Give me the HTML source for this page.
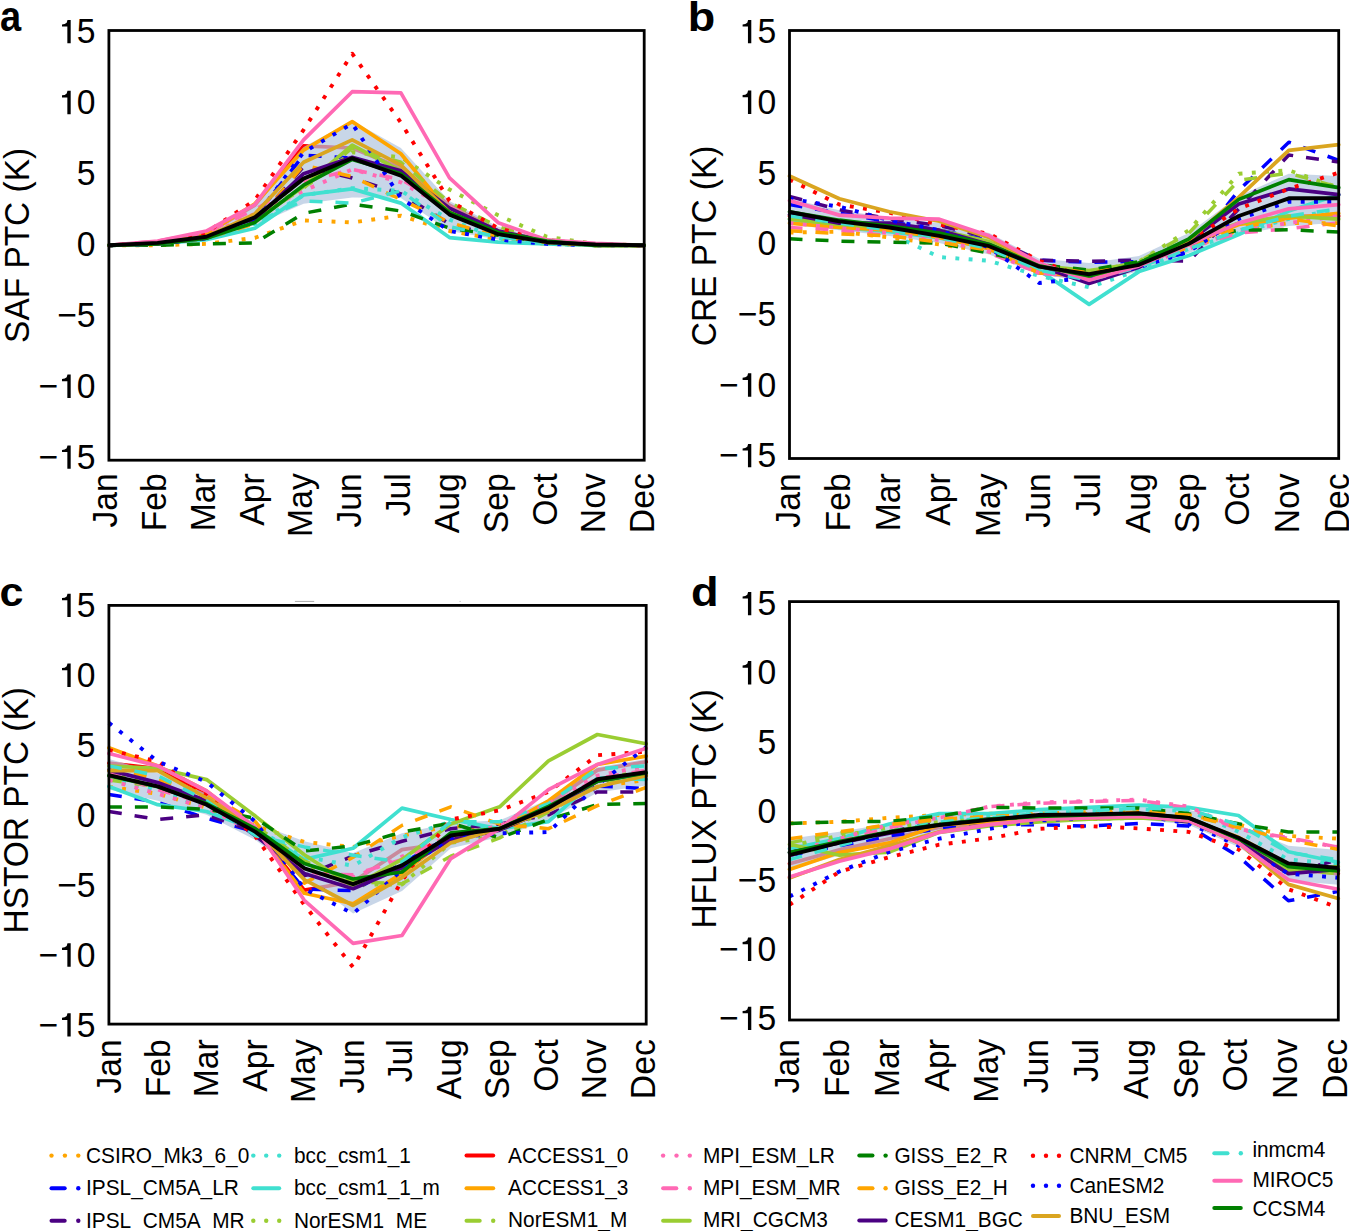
<!DOCTYPE html><html><head><meta charset="utf-8"><style>html,body{margin:0;padding:0;background:#fff;}svg{display:block}text{font-family:"Liberation Sans",sans-serif;}</style></head><body>
<svg width="1349" height="1231" viewBox="0 0 1349 1231">
<rect width="1349" height="1231" fill="#fff"/>
<g>
<polyline fill="none" stroke="#FF0000" stroke-width="3.7" stroke-linejoin="round" stroke-linecap="round" points="108.9,245.3 157.6,242.5 206.2,233.9 254.9,205.2 303.6,145.9 352.2,148.0 400.9,168.0 449.5,205.2 498.2,231.0 546.9,241.1 595.5,244.6 644.2,245.3"/>
<polygon fill="#B0C4DE" fill-opacity="0.7" points="108.9,244.6 157.6,241.1 206.2,232.5 254.9,203.1 303.6,146.9 352.2,120.7 400.9,148.0 449.5,200.9 498.2,226.7 546.9,239.6 595.5,243.9 644.2,245.1 644.2,245.6 595.5,245.1 546.9,243.9 498.2,239.6 449.5,231.0 400.9,198.1 352.2,197.5 303.6,203.8 254.9,225.3 206.2,239.6 157.6,244.6 108.9,246.1"/>
<polyline fill="none" stroke="#FFA500" stroke-width="3.9" stroke-dasharray="3.9 9.4" stroke-linejoin="round" points="108.9,245.3 157.6,245.3 206.2,243.9 254.9,237.8 303.6,220.4 352.2,222.4 400.9,215.7 449.5,231.0 498.2,239.6 546.9,243.9 595.5,245.3 644.2,245.3"/>
<polyline fill="none" stroke="#0000FF" stroke-width="3.5" stroke-dasharray="13 13" stroke-linejoin="round" points="108.9,245.3 157.6,243.2 206.2,236.8 254.9,216.7 303.6,155.1 352.2,158.0 400.9,173.7 449.5,213.8 498.2,233.9 546.9,242.5 595.5,245.3 644.2,245.3"/>
<polyline fill="none" stroke="#4B0082" stroke-width="3.5" stroke-dasharray="13 13" stroke-linejoin="round" points="108.9,245.3 157.6,243.9 206.2,238.2 254.9,222.4 303.6,166.6 352.2,178.0 400.9,193.8 449.5,223.9 498.2,236.8 546.9,242.5 595.5,245.3 644.2,245.3"/>
<polyline fill="none" stroke="#40E0D0" stroke-width="3.9" stroke-dasharray="3.9 9.4" stroke-linejoin="round" points="108.9,245.3 157.6,243.9 206.2,238.2 254.9,223.9 303.6,195.2 352.2,188.1 400.9,190.9 449.5,219.6 498.2,238.2 546.9,243.9 595.5,245.3 644.2,245.3"/>
<polyline fill="none" stroke="#40E0D0" stroke-width="3.7" stroke-linejoin="round" stroke-linecap="round" points="108.9,245.3 157.6,243.9 206.2,239.6 254.9,228.2 303.6,194.9 352.2,188.9 400.9,203.1 449.5,237.6 498.2,242.2 546.9,243.9 595.5,245.3 644.2,245.3"/>
<polyline fill="none" stroke="#9ACD32" stroke-width="3.9" stroke-dasharray="3.9 9.4" stroke-linejoin="round" points="108.9,245.3 157.6,242.5 206.2,235.3 254.9,215.3 303.6,188.1 352.2,152.2 400.9,157.3 449.5,189.5 498.2,215.3 546.9,236.8 595.5,243.9 644.2,245.3"/>
<polyline fill="none" stroke="#FFA500" stroke-width="3.7" stroke-linejoin="round" stroke-linecap="round" points="108.9,245.3 157.6,242.5 206.2,233.9 254.9,203.8 303.6,150.1 352.2,121.6 400.9,153.7 449.5,212.4 498.2,233.0 546.9,241.1 595.5,244.6 644.2,245.3"/>
<polyline fill="none" stroke="#9ACD32" stroke-width="3.5" stroke-dasharray="13 13" stroke-linejoin="round" points="108.9,245.3 157.6,243.2 206.2,236.8 254.9,219.6 303.6,188.1 352.2,148.0 400.9,162.3 449.5,202.4 498.2,226.7 546.9,239.6 595.5,244.6 644.2,245.3"/>
<polyline fill="none" stroke="#FF69B4" stroke-width="3.9" stroke-dasharray="3.9 9.4" stroke-linejoin="round" points="108.9,245.3 157.6,242.5 206.2,235.3 254.9,213.8 303.6,190.9 352.2,169.4 400.9,182.3 449.5,209.5 498.2,232.5 546.9,241.1 595.5,245.3 644.2,245.3"/>
<polyline fill="none" stroke="#FF69B4" stroke-width="3.5" stroke-dasharray="13 13" stroke-linejoin="round" points="108.9,245.3 157.6,241.1 206.2,232.5 254.9,209.5 303.6,182.3 352.2,169.4 400.9,179.5 449.5,206.7 498.2,231.0 546.9,241.1 595.5,244.6 644.2,245.3"/>
<polyline fill="none" stroke="#9ACD32" stroke-width="3.7" stroke-linejoin="round" stroke-linecap="round" points="108.9,245.3 157.6,243.9 206.2,238.2 254.9,221.0 303.6,186.6 352.2,145.1 400.9,170.9 449.5,208.1 498.2,231.0 546.9,241.1 595.5,245.3 644.2,245.3"/>
<polyline fill="none" stroke="#008000" stroke-width="3.5" stroke-dasharray="13 13" stroke-linejoin="round" points="108.9,245.3 157.6,245.3 206.2,243.9 254.9,242.9 303.6,213.3 352.2,204.1 400.9,211.0 449.5,228.2 498.2,235.3 546.9,242.5 595.5,245.3 644.2,245.3"/>
<polyline fill="none" stroke="#FFA500" stroke-width="3.5" stroke-dasharray="13 13" stroke-linejoin="round" points="108.9,245.3 157.6,243.9 206.2,238.2 254.9,223.9 303.6,165.1 352.2,176.6 400.9,199.5 449.5,222.4 498.2,236.8 546.9,242.5 595.5,245.3 644.2,245.3"/>
<polyline fill="none" stroke="#4B0082" stroke-width="3.7" stroke-linejoin="round" stroke-linecap="round" points="108.9,245.3 157.6,243.9 206.2,238.2 254.9,219.6 303.6,173.7 352.2,157.3 400.9,170.9 449.5,208.1 498.2,231.0 546.9,241.1 595.5,244.6 644.2,245.3"/>
<polyline fill="none" stroke="#FF0000" stroke-width="3.9" stroke-dasharray="3.9 9.4" stroke-linejoin="round" points="108.9,245.3 157.6,242.5 206.2,232.5 254.9,200.2 303.6,129.8 352.2,53.7 400.9,122.7 449.5,200.9 498.2,228.2 546.9,241.1 595.5,244.6 644.2,245.3"/>
<polyline fill="none" stroke="#0000FF" stroke-width="3.9" stroke-dasharray="3.9 9.4" stroke-linejoin="round" points="108.9,245.3 157.6,243.9 206.2,238.2 254.9,218.1 303.6,152.2 352.2,123.6 400.9,198.1 449.5,231.0 498.2,239.6 546.9,243.9 595.5,245.3 644.2,245.3"/>
<polyline fill="none" stroke="#DAA520" stroke-width="3.7" stroke-linejoin="round" stroke-linecap="round" points="108.9,245.3 157.6,243.2 206.2,236.8 254.9,213.8 303.6,162.3 352.2,139.9 400.9,165.1 449.5,212.4 498.2,233.9 546.9,242.5 595.5,245.3 644.2,245.3"/>
<polyline fill="none" stroke="#40E0D0" stroke-width="3.5" stroke-dasharray="13 13" stroke-linejoin="round" points="108.9,245.3 157.6,243.9 206.2,238.2 254.9,222.4 303.6,200.9 352.2,203.1 400.9,190.9 449.5,226.7 498.2,236.8 546.9,242.5 595.5,245.3 644.2,245.3"/>
<polyline fill="none" stroke="#FF69B4" stroke-width="3.7" stroke-linejoin="round" stroke-linecap="round" points="108.9,245.3 157.6,241.1 206.2,231.0 254.9,204.5 303.6,139.9 352.2,91.7 400.9,92.8 449.5,177.9 498.2,222.7 546.9,239.9 595.5,243.3 644.2,245.3"/>
<polyline fill="none" stroke="#008000" stroke-width="3.7" stroke-linejoin="round" stroke-linecap="round" points="108.9,245.3 157.6,243.9 206.2,238.2 254.9,222.4 303.6,185.2 352.2,159.4 400.9,173.7 449.5,212.4 498.2,232.5 546.9,241.1 595.5,245.3 644.2,245.3"/>
<polyline fill="none" stroke="#000" stroke-width="3.9" stroke-linejoin="round" points="108.9,245.3 157.6,242.9 206.2,236.8 254.9,217.4 303.6,178.6 352.2,158.3 400.9,175.6 449.5,214.6 498.2,234.2 546.9,242.2 595.5,244.5 644.2,245.3"/>
</g>
<rect x="108.9" y="30.5" width="535.3" height="429.7" fill="none" stroke="#000" stroke-width="2.8"/>
<text transform="translate(76.84,43.3) scale(0.95,1)" font-size="35.5">5</text>
<path d="M67.35,26.60 L62.01,26.60 L62.01,24.40 L64.69,24.00 L66.69,22.70 L67.49,19.94 L70.69,19.94 L70.69,43.30 L67.35,43.30 Z" fill="#000"/>
<text transform="translate(76.84,114.2) scale(0.95,1)" font-size="35.5">0</text>
<path d="M67.35,97.52 L62.01,97.52 L62.01,95.32 L64.69,94.92 L66.69,93.62 L67.49,90.86 L70.69,90.86 L70.69,114.22 L67.35,114.22 Z" fill="#000"/>
<text transform="translate(76.84,185.1) scale(0.95,1)" font-size="35.5">5</text>
<text transform="translate(76.84,256.1) scale(0.95,1)" font-size="35.5">0</text>
<text transform="translate(76.84,327.0) scale(0.95,1)" font-size="35.5">5</text>
<text transform="translate(57.15,327.0) scale(0.95,1)" font-size="35.5">−</text>
<text transform="translate(76.84,397.9) scale(0.95,1)" font-size="35.5">0</text>
<path d="M67.35,381.20 L62.01,381.20 L62.01,379.00 L64.69,378.60 L66.69,377.30 L67.49,374.54 L70.69,374.54 L70.69,397.90 L67.35,397.90 Z" fill="#000"/>
<text transform="translate(38.39,397.9) scale(0.95,1)" font-size="35.5">−</text>
<text transform="translate(76.84,468.8) scale(0.95,1)" font-size="35.5">5</text>
<path d="M67.35,452.12 L62.01,452.12 L62.01,449.92 L64.69,449.52 L66.69,448.22 L67.49,445.46 L70.69,445.46 L70.69,468.82 L67.35,468.82 Z" fill="#000"/>
<text transform="translate(38.39,468.8) scale(0.95,1)" font-size="35.5">−</text>
<text transform="translate(117.2,473.2) rotate(-90) scale(0.95,1)" text-anchor="end" font-size="35.5">Jan</text>
<text transform="translate(166.0,473.2) rotate(-90) scale(0.95,1)" text-anchor="end" font-size="35.5">Feb</text>
<text transform="translate(214.8,473.2) rotate(-90) scale(0.95,1)" text-anchor="end" font-size="35.5">Mar</text>
<text transform="translate(263.6,473.2) rotate(-90) scale(0.95,1)" text-anchor="end" font-size="35.5">Apr</text>
<text transform="translate(312.4,473.2) rotate(-90) scale(0.95,1)" text-anchor="end" font-size="35.5">May</text>
<text transform="translate(361.2,473.2) rotate(-90) scale(0.95,1)" text-anchor="end" font-size="35.5">Jun</text>
<text transform="translate(410.1,473.2) rotate(-90) scale(0.95,1)" text-anchor="end" font-size="35.5">Jul</text>
<text transform="translate(458.9,473.2) rotate(-90) scale(0.95,1)" text-anchor="end" font-size="35.5">Aug</text>
<text transform="translate(507.7,473.2) rotate(-90) scale(0.95,1)" text-anchor="end" font-size="35.5">Sep</text>
<text transform="translate(556.5,473.2) rotate(-90) scale(0.95,1)" text-anchor="end" font-size="35.5">Oct</text>
<text transform="translate(605.3,473.2) rotate(-90) scale(0.95,1)" text-anchor="end" font-size="35.5">Nov</text>
<text transform="translate(654.1,473.2) rotate(-90) scale(0.95,1)" text-anchor="end" font-size="35.5">Dec</text>
<text transform="translate(28.6,245.4) rotate(-90) scale(0.955,1)" text-anchor="middle" font-size="35">SAF PTC (K)</text>
<text transform="translate(0.0,30.7) scale(0.885,1)" font-size="43" font-weight="bold">a</text>
<g>
<polyline fill="none" stroke="#FF0000" stroke-width="3.7" stroke-linejoin="round" stroke-linecap="round" points="789.5,216.0 839.4,224.5 889.4,230.2 939.3,235.9 989.2,248.8 1039.1,273.0 1089.1,277.3 1139.0,265.9 1188.9,244.5 1238.8,223.1 1288.8,216.0 1338.7,216.0"/>
<polygon fill="#B0C4DE" fill-opacity="0.7" points="789.5,198.8 839.4,210.3 889.4,217.4 939.3,223.1 989.2,233.1 1039.1,258.8 1089.1,263.0 1139.0,255.9 1188.9,233.1 1238.8,196.0 1288.8,173.7 1338.7,176.0 1338.7,222.8 1288.8,226.0 1238.8,234.5 1188.9,253.1 1139.0,271.6 1089.1,281.6 1039.1,274.5 989.2,254.5 939.3,243.1 889.4,235.9 839.4,230.2 789.5,224.5"/>
<polyline fill="none" stroke="#FFA500" stroke-width="3.9" stroke-dasharray="3.9 9.4" stroke-linejoin="round" points="789.5,232.5 839.4,231.7 889.4,237.4 939.3,244.5 989.2,251.6 1039.1,270.2 1089.1,277.3 1139.0,265.9 1188.9,248.8 1238.8,230.2 1288.8,223.1 1338.7,223.1"/>
<polyline fill="none" stroke="#0000FF" stroke-width="3.5" stroke-dasharray="13 13" stroke-linejoin="round" points="789.5,204.6 839.4,213.1 889.4,221.7 939.3,230.2 989.2,240.2 1039.1,260.2 1089.1,262.3 1139.0,261.6 1188.9,253.1 1238.8,190.3 1288.8,142.2 1338.7,160.3"/>
<polyline fill="none" stroke="#4B0082" stroke-width="3.5" stroke-dasharray="13 13" stroke-linejoin="round" points="789.5,196.4 839.4,209.8 889.4,218.8 939.3,225.5 989.2,237.4 1039.1,260.2 1089.1,261.2 1139.0,260.2 1188.9,261.2 1238.8,208.8 1288.8,155.0 1338.7,162.0"/>
<polyline fill="none" stroke="#40E0D0" stroke-width="3.9" stroke-dasharray="3.9 9.4" stroke-linejoin="round" points="789.5,216.0 839.4,223.1 889.4,233.1 939.3,257.1 989.2,260.8 1039.1,275.9 1089.1,287.3 1139.0,270.2 1188.9,248.8 1238.8,233.1 1288.8,218.8 1338.7,208.8"/>
<polyline fill="none" stroke="#40E0D0" stroke-width="3.7" stroke-linejoin="round" stroke-linecap="round" points="789.5,219.2 839.4,227.5 889.4,231.7 939.3,237.9 989.2,248.2 1039.1,270.2 1089.1,304.4 1139.0,271.6 1188.9,255.5 1238.8,234.5 1288.8,211.1 1338.7,194.7"/>
<polyline fill="none" stroke="#9ACD32" stroke-width="3.9" stroke-dasharray="3.9 9.4" stroke-linejoin="round" points="789.5,216.0 839.4,223.1 889.4,227.4 939.3,233.1 989.2,244.5 1039.1,265.9 1089.1,273.0 1139.0,261.6 1188.9,230.2 1238.8,173.7 1288.8,170.3 1338.7,187.7"/>
<polyline fill="none" stroke="#FFA500" stroke-width="3.7" stroke-linejoin="round" stroke-linecap="round" points="789.5,223.1 839.4,227.4 889.4,230.2 939.3,237.4 989.2,248.8 1039.1,273.0 1089.1,275.9 1139.0,264.5 1188.9,244.5 1238.8,224.5 1288.8,218.1 1338.7,213.4"/>
<polyline fill="none" stroke="#9ACD32" stroke-width="3.5" stroke-dasharray="13 13" stroke-linejoin="round" points="789.5,213.1 839.4,221.7 889.4,227.4 939.3,233.1 989.2,244.5 1039.1,265.9 1089.1,273.0 1139.0,261.6 1188.9,233.1 1238.8,180.3 1288.8,173.2 1338.7,187.4"/>
<polyline fill="none" stroke="#FF69B4" stroke-width="3.9" stroke-dasharray="3.9 9.4" stroke-linejoin="round" points="789.5,223.1 839.4,227.4 889.4,233.1 939.3,240.2 989.2,251.6 1039.1,273.0 1089.1,277.3 1139.0,265.9 1188.9,248.8 1238.8,230.2 1288.8,223.1 1338.7,216.0"/>
<polyline fill="none" stroke="#FF69B4" stroke-width="3.5" stroke-dasharray="13 13" stroke-linejoin="round" points="789.5,227.4 839.4,230.2 889.4,235.9 939.3,241.6 989.2,253.1 1039.1,273.0 1089.1,277.3 1139.0,265.9 1188.9,247.4 1238.8,233.1 1288.8,228.8 1338.7,222.8"/>
<polyline fill="none" stroke="#9ACD32" stroke-width="3.7" stroke-linejoin="round" stroke-linecap="round" points="789.5,218.8 839.4,224.5 889.4,227.4 939.3,230.2 989.2,241.6 1039.1,265.9 1089.1,270.6 1139.0,263.0 1188.9,241.6 1238.8,223.1 1288.8,216.0 1338.7,219.2"/>
<polyline fill="none" stroke="#008000" stroke-width="3.5" stroke-dasharray="13 13" stroke-linejoin="round" points="789.5,238.8 839.4,241.1 889.4,242.2 939.3,243.1 989.2,253.1 1039.1,264.5 1089.1,270.2 1139.0,261.6 1188.9,240.2 1238.8,230.2 1288.8,229.8 1338.7,232.1"/>
<polyline fill="none" stroke="#FFA500" stroke-width="3.5" stroke-dasharray="13 13" stroke-linejoin="round" points="789.5,230.7 839.4,233.8 889.4,235.8 939.3,242.2 989.2,250.3 1039.1,265.9 1089.1,273.0 1139.0,264.5 1188.9,247.4 1238.8,227.4 1288.8,218.8 1338.7,226.0"/>
<polyline fill="none" stroke="#4B0082" stroke-width="3.7" stroke-linejoin="round" stroke-linecap="round" points="789.5,214.5 839.4,223.1 889.4,223.1 939.3,230.2 989.2,244.5 1039.1,265.9 1089.1,283.4 1139.0,267.3 1188.9,241.6 1238.8,204.1 1288.8,188.9 1338.7,194.7"/>
<polyline fill="none" stroke="#FF0000" stroke-width="3.9" stroke-dasharray="3.9 9.4" stroke-linejoin="round" points="789.5,179.4 839.4,204.6 889.4,212.7 939.3,224.5 989.2,233.8 1039.1,260.8 1089.1,278.7 1139.0,265.9 1188.9,241.6 1238.8,208.8 1288.8,188.9 1338.7,172.6"/>
<polyline fill="none" stroke="#0000FF" stroke-width="3.9" stroke-dasharray="3.9 9.4" stroke-linejoin="round" points="789.5,198.8 839.4,206.8 889.4,220.2 939.3,230.2 989.2,247.4 1039.1,283.0 1089.1,277.3 1139.0,267.3 1188.9,251.6 1238.8,218.8 1288.8,201.7 1338.7,201.7"/>
<polyline fill="none" stroke="#DAA520" stroke-width="3.7" stroke-linejoin="round" stroke-linecap="round" points="789.5,176.0 839.4,198.8 889.4,211.7 939.3,221.2 989.2,237.4 1039.1,265.9 1089.1,275.9 1139.0,264.5 1188.9,240.2 1238.8,197.1 1288.8,150.3 1338.7,144.6"/>
<polyline fill="none" stroke="#40E0D0" stroke-width="3.5" stroke-dasharray="13 13" stroke-linejoin="round" points="789.5,216.0 839.4,223.1 889.4,230.2 939.3,237.4 989.2,248.8 1039.1,270.2 1089.1,280.2 1139.0,267.3 1188.9,248.8 1238.8,230.2 1288.8,216.0 1338.7,208.8"/>
<polyline fill="none" stroke="#FF69B4" stroke-width="3.7" stroke-linejoin="round" stroke-linecap="round" points="789.5,200.6 839.4,215.1 889.4,218.2 939.3,219.2 989.2,235.8 1039.1,262.9 1089.1,280.2 1139.0,265.9 1188.9,244.5 1238.8,223.1 1288.8,208.8 1338.7,204.6"/>
<polyline fill="none" stroke="#008000" stroke-width="3.7" stroke-linejoin="round" stroke-linecap="round" points="789.5,211.7 839.4,220.2 889.4,226.0 939.3,233.1 989.2,244.5 1039.1,265.9 1089.1,275.9 1139.0,263.0 1188.9,238.8 1238.8,199.4 1288.8,179.6 1338.7,187.7"/>
<polyline fill="none" stroke="#000" stroke-width="3.9" stroke-linejoin="round" points="789.5,212.0 839.4,221.4 889.4,227.5 939.3,235.9 989.2,246.2 1039.1,266.6 1089.1,274.2 1139.0,264.8 1188.9,243.8 1238.8,216.0 1288.8,198.3 1338.7,198.3"/>
</g>
<rect x="789.5" y="30.5" width="549.2" height="428.0" fill="none" stroke="#000" stroke-width="2.8"/>
<text transform="translate(757.44,43.3) scale(0.95,1)" font-size="35.5">5</text>
<path d="M747.95,26.60 L742.61,26.60 L742.61,24.40 L745.29,24.00 L747.29,22.70 L748.09,19.94 L751.29,19.94 L751.29,43.30 L747.95,43.30 Z" fill="#000"/>
<text transform="translate(757.44,114.0) scale(0.95,1)" font-size="35.5">0</text>
<path d="M747.95,97.27 L742.61,97.27 L742.61,95.07 L745.29,94.67 L747.29,93.37 L748.09,90.61 L751.29,90.61 L751.29,113.97 L747.95,113.97 Z" fill="#000"/>
<text transform="translate(757.44,184.6) scale(0.95,1)" font-size="35.5">5</text>
<text transform="translate(757.44,255.3) scale(0.95,1)" font-size="35.5">0</text>
<text transform="translate(757.44,326.0) scale(0.95,1)" font-size="35.5">5</text>
<text transform="translate(737.75,326.0) scale(0.95,1)" font-size="35.5">−</text>
<text transform="translate(757.44,396.7) scale(0.95,1)" font-size="35.5">0</text>
<path d="M747.95,379.95 L742.61,379.95 L742.61,377.75 L745.29,377.35 L747.29,376.05 L748.09,373.29 L751.29,373.29 L751.29,396.65 L747.95,396.65 Z" fill="#000"/>
<text transform="translate(718.99,396.7) scale(0.95,1)" font-size="35.5">−</text>
<text transform="translate(757.44,467.3) scale(0.95,1)" font-size="35.5">5</text>
<path d="M747.95,450.62 L742.61,450.62 L742.61,448.42 L745.29,448.02 L747.29,446.72 L748.09,443.96 L751.29,443.96 L751.29,467.32 L747.95,467.32 Z" fill="#000"/>
<text transform="translate(718.99,467.3) scale(0.95,1)" font-size="35.5">−</text>
<text transform="translate(800.0,473.3) rotate(-90) scale(0.95,1)" text-anchor="end" font-size="35.5">Jan</text>
<text transform="translate(849.9,473.3) rotate(-90) scale(0.95,1)" text-anchor="end" font-size="35.5">Feb</text>
<text transform="translate(899.9,473.3) rotate(-90) scale(0.95,1)" text-anchor="end" font-size="35.5">Mar</text>
<text transform="translate(949.8,473.3) rotate(-90) scale(0.95,1)" text-anchor="end" font-size="35.5">Apr</text>
<text transform="translate(999.7,473.3) rotate(-90) scale(0.95,1)" text-anchor="end" font-size="35.5">May</text>
<text transform="translate(1049.7,473.3) rotate(-90) scale(0.95,1)" text-anchor="end" font-size="35.5">Jun</text>
<text transform="translate(1099.6,473.3) rotate(-90) scale(0.95,1)" text-anchor="end" font-size="35.5">Jul</text>
<text transform="translate(1149.5,473.3) rotate(-90) scale(0.95,1)" text-anchor="end" font-size="35.5">Aug</text>
<text transform="translate(1199.4,473.3) rotate(-90) scale(0.95,1)" text-anchor="end" font-size="35.5">Sep</text>
<text transform="translate(1249.4,473.3) rotate(-90) scale(0.95,1)" text-anchor="end" font-size="35.5">Oct</text>
<text transform="translate(1299.3,473.3) rotate(-90) scale(0.95,1)" text-anchor="end" font-size="35.5">Nov</text>
<text transform="translate(1349.2,473.3) rotate(-90) scale(0.95,1)" text-anchor="end" font-size="35.5">Dec</text>
<text transform="translate(716.4,245.9) rotate(-90) scale(0.955,1)" text-anchor="middle" font-size="35">CRE PTC (K)</text>
<text transform="translate(687.8,31.0) scale(1.125,1)" font-size="40" font-weight="bold">b</text>
<g>
<polyline fill="none" stroke="#FF0000" stroke-width="3.7" stroke-linejoin="round" stroke-linecap="round" points="108.9,763.1 157.7,768.7 206.6,793.8 255.4,828.7 304.3,890.1 353.1,881.7 402.0,849.6 450.8,842.7 499.7,828.7 548.5,803.6 597.4,770.1 646.2,761.7"/>
<polygon fill="#B0C4DE" fill-opacity="0.7" points="108.9,758.9 157.7,772.9 206.6,793.8 255.4,823.1 304.3,841.3 353.1,852.9 402.0,833.3 450.8,823.1 499.7,820.3 548.5,799.4 597.4,767.3 646.2,758.9 646.2,785.4 597.4,792.4 548.5,820.3 499.7,837.1 450.8,848.2 402.0,891.1 353.1,913.4 304.3,876.2 255.4,839.9 206.6,814.8 157.7,800.8 108.9,789.6"/>
<polyline fill="none" stroke="#FFA500" stroke-width="3.9" stroke-dasharray="3.9 9.4" stroke-linejoin="round" points="108.9,786.8 157.7,793.8 206.6,807.8 255.4,825.9 304.3,842.0 353.1,846.9 402.0,835.7 450.8,825.9 499.7,828.7 548.5,807.8 597.4,786.8 646.2,779.9"/>
<polyline fill="none" stroke="#0000FF" stroke-width="3.5" stroke-dasharray="13 13" stroke-linejoin="round" points="108.9,794.4 157.7,802.3 206.6,818.2 255.4,831.9 304.3,888.9 353.1,890.7 402.0,863.6 450.8,835.7 499.7,828.7 548.5,807.8 597.4,786.1 646.2,788.5"/>
<polyline fill="none" stroke="#4B0082" stroke-width="3.5" stroke-dasharray="13 13" stroke-linejoin="round" points="108.9,811.5 157.7,819.4 206.6,814.8 255.4,831.9 304.3,876.0 353.1,855.9 402.0,841.3 450.8,828.7 499.7,824.1 548.5,814.8 597.4,791.9 646.2,791.9"/>
<polyline fill="none" stroke="#40E0D0" stroke-width="3.9" stroke-dasharray="3.9 9.4" stroke-linejoin="round" points="108.9,779.9 157.7,789.6 206.6,807.8 255.4,828.7 304.3,856.6 353.1,865.8 402.0,837.4 450.8,821.7 499.7,828.7 548.5,807.8 597.4,779.9 646.2,772.9"/>
<polyline fill="none" stroke="#40E0D0" stroke-width="3.7" stroke-linejoin="round" stroke-linecap="round" points="108.9,786.4 157.7,804.7 206.6,811.5 255.4,829.7 304.3,859.4 353.1,848.2 402.0,808.1 450.8,819.5 499.7,828.7 548.5,821.7 597.4,778.2 646.2,779.3"/>
<polyline fill="none" stroke="#9ACD32" stroke-width="3.9" stroke-dasharray="3.9 9.4" stroke-linejoin="round" points="108.9,772.9 157.7,784.0 206.6,800.8 255.4,828.7 304.3,863.6 353.1,884.5 402.0,884.5 450.8,842.7 499.7,835.7 548.5,807.8 597.4,779.9 646.2,770.1"/>
<polyline fill="none" stroke="#FFA500" stroke-width="3.7" stroke-linejoin="round" stroke-linecap="round" points="108.9,747.8 157.7,765.9 206.6,791.0 255.4,829.7 304.3,893.3 353.1,903.7 402.0,873.4 450.8,835.7 499.7,828.7 548.5,800.8 597.4,764.5 646.2,756.1"/>
<polyline fill="none" stroke="#9ACD32" stroke-width="3.5" stroke-dasharray="13 13" stroke-linejoin="round" points="108.9,779.9 157.7,786.8 206.6,803.6 255.4,825.9 304.3,860.8 353.1,881.7 402.0,883.8 450.8,856.2 499.7,837.9 548.5,812.0 597.4,784.0 646.2,772.9"/>
<polyline fill="none" stroke="#FF69B4" stroke-width="3.9" stroke-dasharray="3.9 9.4" stroke-linejoin="round" points="108.9,779.9 157.7,793.8 206.6,807.8 255.4,832.9 304.3,870.6 353.1,877.6 402.0,856.6 450.8,835.7 499.7,825.9 548.5,803.6 597.4,775.7 646.2,765.9"/>
<polyline fill="none" stroke="#FF69B4" stroke-width="3.5" stroke-dasharray="13 13" stroke-linejoin="round" points="108.9,772.9 157.7,789.6 206.6,803.6 255.4,828.7 304.3,873.4 353.1,874.8 402.0,859.4 450.8,835.7 499.7,828.7 548.5,806.4 597.4,778.5 646.2,770.1"/>
<polyline fill="none" stroke="#9ACD32" stroke-width="3.7" stroke-linejoin="round" stroke-linecap="round" points="108.9,766.0 157.7,768.3 206.6,779.6 255.4,816.1 304.3,854.8 353.1,886.5 402.0,859.4 450.8,824.1 499.7,806.8 548.5,760.9 597.4,734.5 646.2,743.7"/>
<polyline fill="none" stroke="#008000" stroke-width="3.5" stroke-dasharray="13 13" stroke-linejoin="round" points="108.9,806.9 157.7,806.9 206.6,809.2 255.4,818.2 304.3,851.0 353.1,845.9 402.0,832.1 450.8,823.1 499.7,837.9 548.5,819.5 597.4,804.6 646.2,803.4"/>
<polyline fill="none" stroke="#FFA500" stroke-width="3.5" stroke-dasharray="13 13" stroke-linejoin="round" points="108.9,765.9 157.7,779.9 206.6,793.8 255.4,821.7 304.3,883.1 353.1,857.3 402.0,825.4 450.8,806.8 499.7,824.1 548.5,828.7 597.4,805.7 646.2,787.3"/>
<polyline fill="none" stroke="#4B0082" stroke-width="3.7" stroke-linejoin="round" stroke-linecap="round" points="108.9,770.1 157.7,782.6 206.6,800.8 255.4,835.7 304.3,873.4 353.1,888.7 402.0,867.8 450.8,839.9 499.7,830.1 548.5,809.2 597.4,781.3 646.2,772.9"/>
<polyline fill="none" stroke="#FF0000" stroke-width="3.9" stroke-dasharray="3.9 9.4" stroke-linejoin="round" points="108.9,750.1 157.7,761.4 206.6,795.5 255.4,836.5 304.3,904.8 353.1,967.3 402.0,880.3 450.8,819.5 499.7,810.3 548.5,791.9 597.4,755.2 646.2,751.8"/>
<polyline fill="none" stroke="#0000FF" stroke-width="3.9" stroke-dasharray="3.9 9.4" stroke-linejoin="round" points="108.9,722.8 157.7,761.4 206.6,782.0 255.4,821.7 304.3,888.9 353.1,913.7 402.0,870.0 450.8,837.9 499.7,833.3 548.5,832.1 597.4,785.0 646.2,747.2"/>
<polyline fill="none" stroke="#DAA520" stroke-width="3.7" stroke-linejoin="round" stroke-linecap="round" points="108.9,770.6 157.7,770.6 206.6,798.0 255.4,828.7 304.3,879.6 353.1,905.5 402.0,877.6 450.8,842.7 499.7,828.7 548.5,810.6 597.4,786.8 646.2,775.7"/>
<polyline fill="none" stroke="#40E0D0" stroke-width="3.5" stroke-dasharray="13 13" stroke-linejoin="round" points="108.9,765.9 157.7,775.7 206.6,800.8 255.4,835.7 304.3,846.9 353.1,855.2 402.0,862.2 450.8,821.7 499.7,821.7 548.5,803.6 597.4,768.7 646.2,765.9"/>
<polyline fill="none" stroke="#FF69B4" stroke-width="3.7" stroke-linejoin="round" stroke-linecap="round" points="108.9,753.5 157.7,765.9 206.6,791.0 255.4,827.3 304.3,900.3 353.1,943.4 402.0,935.5 450.8,858.6 499.7,828.7 548.5,789.6 597.4,764.4 646.2,748.3"/>
<polyline fill="none" stroke="#008000" stroke-width="3.7" stroke-linejoin="round" stroke-linecap="round" points="108.9,775.7 157.7,786.8 206.6,803.6 255.4,828.7 304.3,863.6 353.1,879.0 402.0,872.0 450.8,832.9 499.7,828.7 548.5,806.4 597.4,781.3 646.2,772.9"/>
<polyline fill="none" stroke="#000" stroke-width="3.9" stroke-linejoin="round" points="108.9,775.1 157.7,786.4 206.6,804.7 255.4,831.9 304.3,868.3 353.1,884.1 402.0,865.4 450.8,835.5 499.7,828.7 548.5,808.1 597.4,779.3 646.2,772.3"/>
</g>
<rect x="108.9" y="605.4" width="537.3" height="418.7" fill="none" stroke="#000" stroke-width="2.8"/>
<text transform="translate(76.84,617.0) scale(0.95,1)" font-size="35.5">5</text>
<path d="M67.35,600.30 L62.01,600.30 L62.01,598.10 L64.69,597.70 L66.69,596.40 L67.49,593.64 L70.69,593.64 L70.69,617.00 L67.35,617.00 Z" fill="#000"/>
<text transform="translate(76.84,686.9) scale(0.95,1)" font-size="35.5">0</text>
<path d="M67.35,670.23 L62.01,670.23 L62.01,668.03 L64.69,667.63 L66.69,666.33 L67.49,663.57 L70.69,663.57 L70.69,686.93 L67.35,686.93 Z" fill="#000"/>
<text transform="translate(76.84,756.9) scale(0.95,1)" font-size="35.5">5</text>
<text transform="translate(76.84,826.8) scale(0.95,1)" font-size="35.5">0</text>
<text transform="translate(76.84,896.7) scale(0.95,1)" font-size="35.5">5</text>
<text transform="translate(57.15,896.7) scale(0.95,1)" font-size="35.5">−</text>
<text transform="translate(76.84,966.7) scale(0.95,1)" font-size="35.5">0</text>
<path d="M67.35,949.95 L62.01,949.95 L62.01,947.75 L64.69,947.35 L66.69,946.05 L67.49,943.29 L70.69,943.29 L70.69,966.65 L67.35,966.65 Z" fill="#000"/>
<text transform="translate(38.39,966.7) scale(0.95,1)" font-size="35.5">−</text>
<text transform="translate(76.84,1036.6) scale(0.95,1)" font-size="35.5">5</text>
<path d="M67.35,1019.88 L62.01,1019.88 L62.01,1017.68 L64.69,1017.28 L66.69,1015.98 L67.49,1013.22 L70.69,1013.22 L70.69,1036.58 L67.35,1036.58 Z" fill="#000"/>
<text transform="translate(38.39,1036.6) scale(0.95,1)" font-size="35.5">−</text>
<text transform="translate(121.4,1039.2) rotate(-90) scale(0.95,1)" text-anchor="end" font-size="35.5">Jan</text>
<text transform="translate(169.9,1039.2) rotate(-90) scale(0.95,1)" text-anchor="end" font-size="35.5">Feb</text>
<text transform="translate(218.3,1039.2) rotate(-90) scale(0.95,1)" text-anchor="end" font-size="35.5">Mar</text>
<text transform="translate(266.8,1039.2) rotate(-90) scale(0.95,1)" text-anchor="end" font-size="35.5">Apr</text>
<text transform="translate(315.2,1039.2) rotate(-90) scale(0.95,1)" text-anchor="end" font-size="35.5">May</text>
<text transform="translate(363.7,1039.2) rotate(-90) scale(0.95,1)" text-anchor="end" font-size="35.5">Jun</text>
<text transform="translate(412.2,1039.2) rotate(-90) scale(0.95,1)" text-anchor="end" font-size="35.5">Jul</text>
<text transform="translate(460.6,1039.2) rotate(-90) scale(0.95,1)" text-anchor="end" font-size="35.5">Aug</text>
<text transform="translate(509.1,1039.2) rotate(-90) scale(0.95,1)" text-anchor="end" font-size="35.5">Sep</text>
<text transform="translate(557.5,1039.2) rotate(-90) scale(0.95,1)" text-anchor="end" font-size="35.5">Oct</text>
<text transform="translate(606.0,1039.2) rotate(-90) scale(0.95,1)" text-anchor="end" font-size="35.5">Nov</text>
<text transform="translate(654.5,1039.2) rotate(-90) scale(0.95,1)" text-anchor="end" font-size="35.5">Dec</text>
<text transform="translate(27.8,810.3) rotate(-90) scale(0.955,1)" text-anchor="middle" font-size="35">HSTOR PTC (K)</text>
<text transform="translate(-0.6,605.5) scale(1.04,1)" font-size="41.5" font-weight="bold">c</text>
<g>
<polyline fill="none" stroke="#FF0000" stroke-width="3.7" stroke-linejoin="round" stroke-linecap="round" points="789.5,863.8 839.4,849.9 889.3,838.7 939.2,827.5 989.1,822.0 1039.0,817.8 1088.8,816.4 1138.7,815.0 1188.6,817.8 1238.5,838.7 1288.4,869.4 1338.3,873.6"/>
<polygon fill="#B0C4DE" fill-opacity="0.7" points="789.5,838.7 839.4,831.7 889.3,823.4 939.2,816.4 989.1,813.6 1039.0,809.4 1088.8,808.0 1138.7,806.6 1188.6,809.4 1238.5,824.7 1288.4,845.7 1338.3,849.9 1338.3,884.7 1288.4,880.5 1238.5,847.1 1188.6,824.7 1138.7,819.2 1088.8,819.2 1039.0,819.2 989.1,824.7 939.2,831.7 889.3,841.5 839.4,855.4 789.5,869.4"/>
<polyline fill="none" stroke="#FFA500" stroke-width="3.9" stroke-dasharray="3.9 9.4" stroke-linejoin="round" points="789.5,823.4 839.4,821.8 889.3,817.8 939.2,815.0 989.1,813.6 1039.0,813.6 1088.8,812.2 1138.7,810.8 1188.6,815.0 1238.5,824.7 1288.4,835.9 1338.3,838.7"/>
<polyline fill="none" stroke="#0000FF" stroke-width="3.5" stroke-dasharray="13 13" stroke-linejoin="round" points="789.5,855.4 839.4,845.7 889.3,835.9 939.2,828.9 989.1,824.7 1039.0,824.7 1088.8,826.1 1138.7,823.4 1188.6,826.1 1238.5,856.4 1288.4,900.8 1338.3,891.4"/>
<polyline fill="none" stroke="#4B0082" stroke-width="3.5" stroke-dasharray="13 13" stroke-linejoin="round" points="789.5,849.9 839.4,841.5 889.3,831.7 939.2,822.0 989.1,820.6 1039.0,819.2 1088.8,817.8 1138.7,816.4 1188.6,822.0 1238.5,841.5 1288.4,873.6 1338.3,859.6"/>
<polyline fill="none" stroke="#40E0D0" stroke-width="3.9" stroke-dasharray="3.9 9.4" stroke-linejoin="round" points="789.5,845.7 839.4,838.7 889.3,827.5 939.2,817.8 989.1,816.4 1039.0,813.6 1088.8,810.8 1138.7,809.4 1188.6,810.8 1238.5,831.7 1288.4,859.6 1338.3,863.8"/>
<polyline fill="none" stroke="#40E0D0" stroke-width="3.7" stroke-linejoin="round" stroke-linecap="round" points="789.5,848.9 839.4,838.6 889.3,824.0 939.2,813.6 989.1,813.6 1039.0,809.7 1088.8,807.3 1138.7,805.1 1188.6,807.3 1238.5,815.5 1288.4,851.8 1338.3,862.3"/>
<polyline fill="none" stroke="#9ACD32" stroke-width="3.9" stroke-dasharray="3.9 9.4" stroke-linejoin="round" points="789.5,845.7 839.4,835.9 889.3,827.5 939.2,822.0 989.1,819.2 1039.0,817.8 1088.8,819.2 1138.7,817.8 1188.6,819.2 1238.5,838.7 1288.4,866.6 1338.3,870.8"/>
<polyline fill="none" stroke="#FFA500" stroke-width="3.7" stroke-linejoin="round" stroke-linecap="round" points="789.5,869.4 839.4,852.6 889.3,842.9 939.2,824.7 989.1,822.0 1039.0,817.8 1088.8,816.4 1138.7,815.0 1188.6,819.2 1238.5,837.3 1288.4,863.8 1338.3,870.8"/>
<polyline fill="none" stroke="#9ACD32" stroke-width="3.5" stroke-dasharray="13 13" stroke-linejoin="round" points="789.5,842.9 839.4,833.1 889.3,824.7 939.2,820.6 989.1,817.8 1039.0,816.4 1088.8,819.2 1138.7,817.8 1188.6,817.8 1238.5,841.5 1288.4,869.4 1338.3,873.6"/>
<polyline fill="none" stroke="#FF69B4" stroke-width="3.9" stroke-dasharray="3.9 9.4" stroke-linejoin="round" points="789.5,852.6 839.4,838.7 889.3,824.7 939.2,817.8 989.1,806.6 1039.0,802.4 1088.8,801.0 1138.7,799.6 1188.6,806.6 1238.5,828.9 1288.4,838.7 1338.3,847.1"/>
<polyline fill="none" stroke="#FF69B4" stroke-width="3.5" stroke-dasharray="13 13" stroke-linejoin="round" points="789.5,855.4 839.4,841.5 889.3,827.5 939.2,817.8 989.1,806.6 1039.0,803.3 1088.8,801.6 1138.7,800.3 1188.6,808.0 1238.5,829.6 1288.4,837.7 1338.3,847.1"/>
<polyline fill="none" stroke="#9ACD32" stroke-width="3.7" stroke-linejoin="round" stroke-linecap="round" points="789.5,844.3 839.4,855.2 889.3,852.1 939.2,832.3 989.1,826.0 1039.0,822.0 1088.8,819.2 1138.7,817.8 1188.6,820.6 1238.5,842.9 1288.4,870.8 1338.3,866.6"/>
<polyline fill="none" stroke="#008000" stroke-width="3.5" stroke-dasharray="13 13" stroke-linejoin="round" points="789.5,823.5 839.4,821.8 889.3,821.3 939.2,816.4 989.1,807.3 1039.0,808.0 1088.8,808.0 1138.7,808.0 1188.6,813.6 1238.5,823.8 1288.4,831.9 1338.3,831.9"/>
<polyline fill="none" stroke="#FFA500" stroke-width="3.5" stroke-dasharray="13 13" stroke-linejoin="round" points="789.5,838.7 839.4,831.7 889.3,824.7 939.2,819.2 989.1,816.4 1039.0,815.0 1088.8,813.6 1138.7,812.2 1188.6,815.0 1238.5,827.5 1288.4,840.1 1338.3,849.4"/>
<polyline fill="none" stroke="#4B0082" stroke-width="3.7" stroke-linejoin="round" stroke-linecap="round" points="789.5,852.6 839.4,842.9 889.3,833.1 939.2,824.7 989.1,819.2 1039.0,816.4 1088.8,815.0 1138.7,815.0 1188.6,819.2 1238.5,841.5 1288.4,873.6 1338.3,869.4"/>
<polyline fill="none" stroke="#FF0000" stroke-width="3.9" stroke-dasharray="3.9 9.4" stroke-linejoin="round" points="789.5,904.9 839.4,871.7 889.3,857.2 939.2,844.7 989.1,838.4 1039.0,828.9 1088.8,826.1 1138.7,828.4 1188.6,831.9 1238.5,849.4 1288.4,889.2 1338.3,907.7"/>
<polyline fill="none" stroke="#0000FF" stroke-width="3.9" stroke-dasharray="3.9 9.4" stroke-linejoin="round" points="789.5,896.6 839.4,871.5 889.3,851.9 939.2,838.7 989.1,828.9 1039.0,820.6 1088.8,817.8 1138.7,815.0 1188.6,823.4 1238.5,845.7 1288.4,873.6 1338.3,877.7"/>
<polyline fill="none" stroke="#DAA520" stroke-width="3.7" stroke-linejoin="round" stroke-linecap="round" points="789.5,877.9 839.4,859.6 889.3,845.7 939.2,831.7 989.1,824.7 1039.0,819.2 1088.8,817.8 1138.7,816.4 1188.6,820.6 1238.5,842.9 1288.4,884.4 1338.3,898.5"/>
<polyline fill="none" stroke="#40E0D0" stroke-width="3.5" stroke-dasharray="13 13" stroke-linejoin="round" points="789.5,859.6 839.4,845.7 889.3,831.7 939.2,822.0 989.1,817.8 1039.0,813.6 1088.8,810.8 1138.7,808.0 1188.6,809.4 1238.5,824.7 1288.4,852.6 1338.3,859.6"/>
<polyline fill="none" stroke="#FF69B4" stroke-width="3.7" stroke-linejoin="round" stroke-linecap="round" points="789.5,876.9 839.4,861.3 889.3,848.9 939.2,832.3 989.1,824.7 1039.0,819.2 1088.8,817.8 1138.7,816.4 1188.6,820.6 1238.5,842.9 1288.4,879.8 1338.3,889.2"/>
<polyline fill="none" stroke="#008000" stroke-width="3.7" stroke-linejoin="round" stroke-linecap="round" points="789.5,852.6 839.4,841.5 889.3,831.7 939.2,824.7 989.1,819.2 1039.0,816.4 1088.8,815.0 1138.7,813.6 1188.6,817.8 1238.5,838.7 1288.4,866.6 1338.3,870.8"/>
<polyline fill="none" stroke="#000" stroke-width="3.9" stroke-linejoin="round" points="789.5,855.2 839.4,842.6 889.3,832.3 939.2,825.0 989.1,819.9 1039.0,815.0 1088.8,814.4 1138.7,813.2 1188.6,817.9 1238.5,837.7 1288.4,863.4 1338.3,868.0"/>
</g>
<rect x="789.5" y="601.6" width="548.8" height="418.4" fill="none" stroke="#000" stroke-width="2.8"/>
<text transform="translate(757.44,615.3) scale(0.95,1)" font-size="35.5">5</text>
<path d="M747.95,598.60 L742.61,598.60 L742.61,596.40 L745.29,596.00 L747.29,594.70 L748.09,591.94 L751.29,591.94 L751.29,615.30 L747.95,615.30 Z" fill="#000"/>
<text transform="translate(757.44,684.4) scale(0.95,1)" font-size="35.5">0</text>
<path d="M747.95,667.72 L742.61,667.72 L742.61,665.52 L745.29,665.12 L747.29,663.82 L748.09,661.06 L751.29,661.06 L751.29,684.42 L747.95,684.42 Z" fill="#000"/>
<text transform="translate(757.44,753.5) scale(0.95,1)" font-size="35.5">5</text>
<text transform="translate(757.44,822.7) scale(0.95,1)" font-size="35.5">0</text>
<text transform="translate(757.44,891.8) scale(0.95,1)" font-size="35.5">5</text>
<text transform="translate(737.75,891.8) scale(0.95,1)" font-size="35.5">−</text>
<text transform="translate(757.44,960.9) scale(0.95,1)" font-size="35.5">0</text>
<path d="M747.95,944.20 L742.61,944.20 L742.61,942.00 L745.29,941.60 L747.29,940.30 L748.09,937.54 L751.29,937.54 L751.29,960.90 L747.95,960.90 Z" fill="#000"/>
<text transform="translate(718.99,960.9) scale(0.95,1)" font-size="35.5">−</text>
<text transform="translate(757.44,1030.0) scale(0.95,1)" font-size="35.5">5</text>
<path d="M747.95,1013.32 L742.61,1013.32 L742.61,1011.12 L745.29,1010.72 L747.29,1009.42 L748.09,1006.66 L751.29,1006.66 L751.29,1030.02 L747.95,1030.02 Z" fill="#000"/>
<text transform="translate(718.99,1030.0) scale(0.95,1)" font-size="35.5">−</text>
<text transform="translate(799.0,1039.0) rotate(-90) scale(0.95,1)" text-anchor="end" font-size="35.5">Jan</text>
<text transform="translate(848.8,1039.0) rotate(-90) scale(0.95,1)" text-anchor="end" font-size="35.5">Feb</text>
<text transform="translate(898.6,1039.0) rotate(-90) scale(0.95,1)" text-anchor="end" font-size="35.5">Mar</text>
<text transform="translate(948.5,1039.0) rotate(-90) scale(0.95,1)" text-anchor="end" font-size="35.5">Apr</text>
<text transform="translate(998.3,1039.0) rotate(-90) scale(0.95,1)" text-anchor="end" font-size="35.5">May</text>
<text transform="translate(1048.1,1039.0) rotate(-90) scale(0.95,1)" text-anchor="end" font-size="35.5">Jun</text>
<text transform="translate(1097.9,1039.0) rotate(-90) scale(0.95,1)" text-anchor="end" font-size="35.5">Jul</text>
<text transform="translate(1147.7,1039.0) rotate(-90) scale(0.95,1)" text-anchor="end" font-size="35.5">Aug</text>
<text transform="translate(1197.6,1039.0) rotate(-90) scale(0.95,1)" text-anchor="end" font-size="35.5">Sep</text>
<text transform="translate(1247.4,1039.0) rotate(-90) scale(0.95,1)" text-anchor="end" font-size="35.5">Oct</text>
<text transform="translate(1297.2,1039.0) rotate(-90) scale(0.95,1)" text-anchor="end" font-size="35.5">Nov</text>
<text transform="translate(1347.0,1039.0) rotate(-90) scale(0.95,1)" text-anchor="end" font-size="35.5">Dec</text>
<text transform="translate(716.2,808.8) rotate(-90) scale(0.955,1)" text-anchor="middle" font-size="35">HFLUX PTC (K)</text>
<text transform="translate(691.0,605.5) scale(1.13,1)" font-size="40" font-weight="bold">d</text>
<line x1="294.9" y1="601.4" x2="314.2" y2="601.4" stroke="#a8a8a8" stroke-width="1"/>
<rect x="459.5" y="600.9" width="1.2" height="1" fill="#bbb"/>
<circle cx="51.5" cy="1155.6" r="2.2" fill="#FFA500"/>
<circle cx="64.9" cy="1155.6" r="2.2" fill="#FFA500"/>
<circle cx="78.3" cy="1155.6" r="2.2" fill="#FFA500"/>
<text transform="translate(86.0,1163.0) scale(0.97,1)" font-size="21.5">CSIRO_Mk3_6_0</text>
<line x1="51.5" y1="1188.2" x2="64.7" y2="1188.2" stroke="#0000FF" stroke-width="4" stroke-linecap="round"/>
<circle cx="78.3" cy="1188.2" r="2.2" fill="#0000FF"/>
<text transform="translate(86.0,1195.0) scale(0.97,1)" font-size="21.5">IPSL_CM5A_LR</text>
<line x1="51.5" y1="1220.8" x2="64.7" y2="1220.8" stroke="#4B0082" stroke-width="4" stroke-linecap="round"/>
<circle cx="78.3" cy="1220.8" r="2.2" fill="#4B0082"/>
<text transform="translate(86.0,1227.5) scale(0.97,1)" font-size="21.5">IPSL_CM5A_MR</text>
<circle cx="253.3" cy="1155.6" r="2.2" fill="#40E0D0"/>
<circle cx="266.2" cy="1155.6" r="2.2" fill="#40E0D0"/>
<circle cx="279.2" cy="1155.6" r="2.2" fill="#40E0D0"/>
<text transform="translate(293.9,1162.5) scale(0.97,1)" font-size="21.5">bcc_csm1_1</text>
<line x1="253.3" y1="1188.2" x2="279.2" y2="1188.2" stroke="#40E0D0" stroke-width="4" stroke-linecap="round"/>
<text transform="translate(293.9,1195.0) scale(0.97,1)" font-size="21.5">bcc_csm1_1_m</text>
<circle cx="253.3" cy="1220.8" r="2.2" fill="#9ACD32"/>
<circle cx="266.2" cy="1220.8" r="2.2" fill="#9ACD32"/>
<circle cx="279.2" cy="1220.8" r="2.2" fill="#9ACD32"/>
<text transform="translate(293.9,1227.5) scale(0.97,1)" font-size="21.5">NorESM1_ME</text>
<line x1="466.5" y1="1155.6" x2="493.2" y2="1155.6" stroke="#FF0000" stroke-width="4" stroke-linecap="round"/>
<text transform="translate(508.0,1163.0) scale(0.97,1)" font-size="21.5">ACCESS1_0</text>
<line x1="466.5" y1="1188.2" x2="493.2" y2="1188.2" stroke="#FFA500" stroke-width="4" stroke-linecap="round"/>
<text transform="translate(508.0,1195.2) scale(0.97,1)" font-size="21.5">ACCESS1_3</text>
<line x1="466.5" y1="1220.8" x2="479.7" y2="1220.8" stroke="#9ACD32" stroke-width="4" stroke-linecap="round"/>
<circle cx="493.2" cy="1220.8" r="2.2" fill="#9ACD32"/>
<text transform="translate(508.0,1226.5) scale(0.97,1)" font-size="21.5">NorESM1_M</text>
<circle cx="663.1" cy="1155.6" r="2.2" fill="#FF69B4"/>
<circle cx="676.5" cy="1155.6" r="2.2" fill="#FF69B4"/>
<circle cx="689.8" cy="1155.6" r="2.2" fill="#FF69B4"/>
<text transform="translate(702.9,1162.5) scale(0.97,1)" font-size="21.5">MPI_ESM_LR</text>
<line x1="663.1" y1="1188.2" x2="676.3000000000001" y2="1188.2" stroke="#FF69B4" stroke-width="4" stroke-linecap="round"/>
<circle cx="689.8" cy="1188.2" r="2.2" fill="#FF69B4"/>
<text transform="translate(702.9,1195.0) scale(0.97,1)" font-size="21.5">MPI_ESM_MR</text>
<line x1="663.1" y1="1220.8" x2="689.8" y2="1220.8" stroke="#9ACD32" stroke-width="4" stroke-linecap="round"/>
<text transform="translate(702.9,1227.0) scale(0.97,1)" font-size="21.5">MRI_CGCM3</text>
<line x1="859.3" y1="1155.6" x2="872.5" y2="1155.6" stroke="#008000" stroke-width="4" stroke-linecap="round"/>
<circle cx="885.6" cy="1155.6" r="2.2" fill="#008000"/>
<text transform="translate(894.4,1163.0) scale(0.97,1)" font-size="21.5">GISS_E2_R</text>
<line x1="859.3" y1="1188.2" x2="872.5" y2="1188.2" stroke="#FFA500" stroke-width="4" stroke-linecap="round"/>
<circle cx="885.6" cy="1188.2" r="2.2" fill="#FFA500"/>
<text transform="translate(894.4,1195.0) scale(0.97,1)" font-size="21.5">GISS_E2_H</text>
<line x1="859.3" y1="1220.4" x2="885.6" y2="1220.4" stroke="#4B0082" stroke-width="4" stroke-linecap="round"/>
<text transform="translate(894.4,1227.0) scale(0.97,1)" font-size="21.5">CESM1_BGC</text>
<circle cx="1033.0" cy="1155.7" r="2.2" fill="#FF0000"/>
<circle cx="1046.0" cy="1155.7" r="2.2" fill="#FF0000"/>
<circle cx="1059.0" cy="1155.7" r="2.2" fill="#FF0000"/>
<text transform="translate(1069.4,1162.7) scale(0.97,1)" font-size="21.5">CNRM_CM5</text>
<circle cx="1033.0" cy="1185.8" r="2.2" fill="#0000FF"/>
<circle cx="1046.0" cy="1185.8" r="2.2" fill="#0000FF"/>
<circle cx="1059.0" cy="1185.8" r="2.2" fill="#0000FF"/>
<text transform="translate(1069.4,1193.1) scale(0.97,1)" font-size="21.5">CanESM2</text>
<line x1="1033.0" y1="1216.1" x2="1059.0" y2="1216.1" stroke="#DAA520" stroke-width="4" stroke-linecap="round"/>
<text transform="translate(1069.4,1222.7) scale(0.97,1)" font-size="21.5">BNU_ESM</text>
<line x1="1214.3" y1="1153.3" x2="1227.5" y2="1153.3" stroke="#40E0D0" stroke-width="4" stroke-linecap="round"/>
<circle cx="1240.8" cy="1153.3" r="2.2" fill="#40E0D0"/>
<text transform="translate(1252.4,1157.3) scale(0.97,1)" font-size="21.5">inmcm4</text>
<line x1="1214.3" y1="1180.7" x2="1240.8" y2="1180.7" stroke="#FF69B4" stroke-width="4" stroke-linecap="round"/>
<text transform="translate(1252.4,1186.9) scale(0.97,1)" font-size="21.5">MIROC5</text>
<line x1="1214.3" y1="1208.1" x2="1240.8" y2="1208.1" stroke="#008000" stroke-width="4" stroke-linecap="round"/>
<text transform="translate(1252.4,1215.8) scale(0.97,1)" font-size="21.5">CCSM4</text>
</svg></body></html>
